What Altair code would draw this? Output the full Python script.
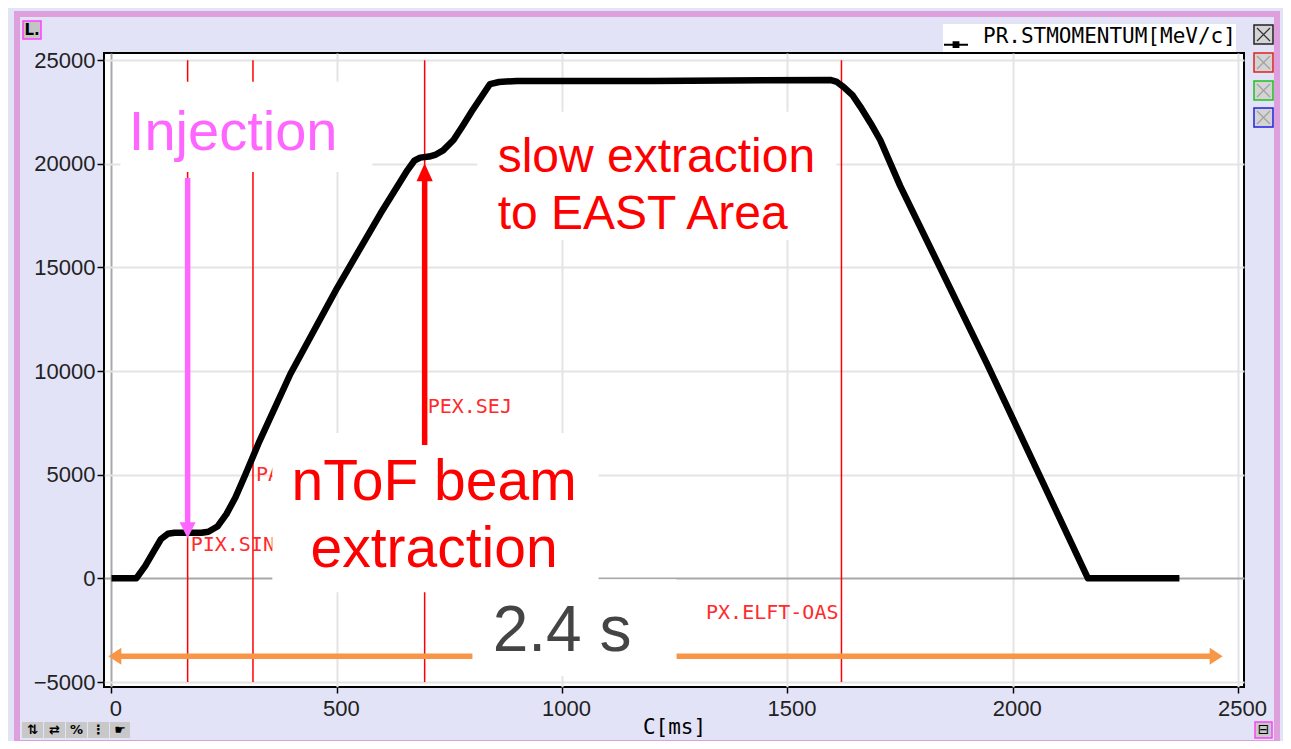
import altair as alt
import pandas as pd

# ---------------- data ----------------
t_ms = [0, 55, 75, 95, 110, 125, 140, 200, 215, 235, 255, 275, 297, 326, 397, 501,
        597, 657, 672, 685, 705, 720, 736, 759, 780, 800, 820, 840, 860, 900, 1200,
        1595, 1610, 1625, 1645, 1662, 1685, 1706, 1750, 1943, 2167, 2370]
p_mev = [0, 0, 600, 1350, 1900, 2150, 2200, 2200, 2250, 2500, 3100, 3900, 5000, 6500,
         9860, 14020, 17600, 19700, 20150, 20300, 20350, 20450, 20650, 21150, 21850,
         22550, 23200, 23850, 23950, 24000, 24000, 24050, 23950, 23700, 23300, 22750,
         21950, 21150, 18950, 10350, 0, 0]
series_name = "PR.STMOMENTUM[MeV/c]"

marker_names = ["PIX.SIN", "PA", "PEX.SEJ", "PX.ELFT-OAS"]
marker_ms = [169, 314, 695, 1620]
marker_label_mev = [1600, 5000, 8270, -1680]
marker_top = 25000
marker_bottom = -5000

x_ticks = [0, 500, 1000, 1500, 2000, 2500]
y_ticks = [-5000, 0, 5000, 10000, 15000, 20000, 25000]

# white note boxes pasted over the plot (ms, MeV/c)
box_x1 = [20, 812, 357, 801]
box_x2 = [579, 1609, 1081, 1254]
box_y1 = [19610, 16330, -670, -4720]
box_y2 = [23960, 22510, 7010, -40]

# annotation texts
inj_text, inj_x, inj_y = ["Injection"], [270], [20670]
slow_text, slow_x, slow_y = ["slow extraction", "to EAST Area"], [857, 857], [19607, 16857]
ntof_text, ntof_x, ntof_y = ["nToF beam", "extraction"], [716, 716], [3782, 550]
dur_text, dur_x, dur_y = ["2.4 s"], [1000], [-3509]

# arrows
inj_arrow_ms, inj_arrow_from, inj_arrow_to = 169, 19320, 1940
ext_arrow_ms, ext_arrow_from, ext_arrow_to = 695, 6430, 20030
dur_arrow_mev, dur_arrow_from, dur_arrow_to = -3757, -7, 2466

# ---------------- layout ----------------
W, H = 1140, 634
X_DOM = [-16.6, 2513.3]
Y_DOM = [-5241, 25348]
xpp = (X_DOM[1] - X_DOM[0]) / W
ypp = (Y_DOM[1] - Y_DOM[0]) / H

RED = "#ff0000"
MAG = "#ff66ff"
ORANGE = "#f79646"
PINK = "#dda0dd"
LAV = "#e3e3f7"

xs = alt.Scale(domain=X_DOM, nice=False, zero=False)
ys = alt.Scale(domain=Y_DOM, nice=False, zero=False)
grid_col = alt.condition("datum.value === 0", alt.value("#a8a8a8"), alt.value("#e4e4e4"))

xaxis = alt.Axis(values=x_ticks, format="d", title="C[ms]", grid=True, gridColor=grid_col,
                 gridWidth=2, domain=False, tickSize=6, tickColor="black", tickWidth=1.5,
                 labelFont="Liberation Sans", labelFontSize=22, labelColor="#222222",
                 labelPadding=5, labelOffset=4, labelFlush=False, labelOverlap=False,
                 titleFont="DejaVu Sans Mono", titleFontSize=21, titleFontWeight="normal",
                 titleColor="black", titleY=29, titleBaseline="top")
yaxis = alt.Axis(values=y_ticks, format="d", title=None, grid=True, gridColor=grid_col,
                 gridWidth=2, domain=False, tickSize=7, tickColor="black", tickWidth=1.5,
                 labelFont="Liberation Sans", labelFontSize=22, labelColor="#222222",
                 labelPadding=2, labelFlush=False, labelOverlap=False)


def X(f="x"):
    return alt.X(f"{f}:Q", scale=xs, axis=xaxis)


def Y(f="y"):
    return alt.Y(f"{f}:Q", scale=ys, axis=yaxis)


one = pd.DataFrame({"k": [0]})
layers = []


def prect(x1, x2, y1, y2, **kw):
    return alt.Chart(one).mark_rect(**kw).encode(
        x=alt.value(x1), x2=alt.value(x2), y=alt.value(y1), y2=alt.value(y2))


def ptext(x, y, s, **kw):
    return alt.Chart(one).mark_text(**kw).encode(
        x=alt.value(x), y=alt.value(y), text=alt.value(s))


# window chrome
layers.append(prect(-87, 1173, -39, 690, fillOpacity=0, stroke=PINK, strokeWidth=6))
layers.append(prect(-81, -63, -32, -14, fill="#c4c4c4", stroke="#ff40ff", strokeWidth=1.5))
layers.append(ptext(-72, -23, "L.", font="DejaVu Sans", fontSize=15, fontWeight="bold",
                    color="black", align="center", baseline="middle"))
xbox_y = [(-28, -9), (0, 19), (28, 47), (55, 74)]
xbox_col = ["#222222", "#e02020", "#20c020", "#2020e0"]
xbox_x = ["#333333", "#a0a0a0", "#a0a0a0", "#a0a0a0"]
for (a, b), c, xc in zip(xbox_y, xbox_col, xbox_x):
    layers.append(prect(1150, 1169, a, b, fill="#d4d4d4", stroke=c, strokeWidth=1.5))
    layers.append(alt.Chart(one).mark_point(shape="M-1,-1L1,1M1,-1L-1,1", size=169,
                                            filled=False, stroke=xc, strokeWidth=1.2,
                                            opacity=1).encode(
        x=alt.value(1159.5), y=alt.value((a + b) / 2)))
icon_x = [(-82, -61), (-60, -39), (-38, -17), (-16, 5), (6, 26)]
icon_g = ["⇅", "⇄", "%", "⋮", "☛"]
for (a, b), g in zip(icon_x, icon_g):
    layers.append(prect(a, b, 669, 685, fill="#c8c8c8"))
    layers.append(ptext((a + b) / 2, 677, g, font="DejaVu Sans", fontSize=13,
                        fontWeight="bold", color="black", align="center", baseline="middle"))
layers.append(prect(1151, 1168, 669, 685, fill="#c8c8c8", stroke="#ff40ff", strokeWidth=1.5))
layers.append(ptext(1159.5, 677, "⊟", font="DejaVu Sans", fontSize=14,
                    color="black", align="center", baseline="middle"))

# timing markers
mk = pd.DataFrame({"x": marker_ms, "y": [marker_top] * 4, "y2": [marker_bottom] * 4,
                   "ly": marker_label_mev, "name": marker_names})
layers.append(alt.Chart(mk).mark_rule(color=RED, strokeWidth=1.5).encode(
    x=X(), y=Y(), y2=alt.Y2("y2:Q")))
layers.append(alt.Chart(mk.iloc[:3]).mark_text(
    font="DejaVu Sans Mono", fontSize=20, color="#ff2a2a", align="left",
    baseline="middle", dx=3).encode(x=X(), y=Y("ly"), text="name:N"))
layers.append(alt.Chart(mk.iloc[3:]).mark_text(
    font="DejaVu Sans Mono", fontSize=20, color="#ff2a2a", align="right",
    baseline="middle", dx=-3).encode(x=X(), y=Y("ly"), text="name:N"))

# orange double arrow (cycle length)
dshaft = pd.DataFrame({"x": [dur_arrow_from + 7 * xpp], "x2": [dur_arrow_to - 7 * xpp],
                       "y": [dur_arrow_mev]})
layers.append(alt.Chart(dshaft).mark_rule(color=ORANGE, strokeWidth=5.5).encode(
    x=X(), x2=alt.X2("x2:Q"), y=Y()))
layers.append(alt.Chart(pd.DataFrame({"x": [dur_arrow_to], "y": [dur_arrow_mev]})).mark_point(
    shape="M-1,-0.65L0,0L-1,0.65Z", size=676, filled=True, color=ORANGE, opacity=1,
    strokeWidth=0).encode(x=X(), y=Y()))
layers.append(alt.Chart(pd.DataFrame({"x": [dur_arrow_from], "y": [dur_arrow_mev]})).mark_point(
    shape="M1,-0.65L0,0L1,0.65Z", size=676, filled=True, color=ORANGE, opacity=1,
    strokeWidth=0).encode(x=X(), y=Y()))

# white note boxes
bx = pd.DataFrame({"x": box_x1, "x2": box_x2, "y": box_y1, "y2": box_y2})
layers.append(alt.Chart(bx).mark_rect(fill="white").encode(
    x=X(), x2=alt.X2("x2:Q"), y=Y(), y2=alt.Y2("y2:Q")))

# the momentum curve
curve = pd.DataFrame({"x": t_ms, "y": p_mev, "series": [series_name] * len(t_ms)})
legend = alt.Legend(orient="none", legendX=839, legendY=-29, title=None, fillColor="white",
                    padding=0, labelFont="DejaVu Sans Mono", labelFontSize=21,
                    labelColor="black", labelLimit=600,
                    symbolType="M-1,0.64H1M-0.2,0.44H0.2V0.84H-0.2Z",
                    symbolSize=576, symbolStrokeWidth=2, symbolStrokeColor="black",
                    symbolFillColor="black", labelOffset=14)
layers.append(alt.Chart(curve).mark_line(strokeWidth=6.5, strokeJoin="round").encode(
    x=X(), y=Y(), color=alt.Color("series:N", scale=alt.Scale(range=["black"]), legend=legend)))

# vertical arrows
ishaft = pd.DataFrame({"x": [inj_arrow_ms], "y": [inj_arrow_from], "y2": [inj_arrow_to + 10 * ypp]})
layers.append(alt.Chart(ishaft).mark_rule(color=MAG, strokeWidth=5.5).encode(
    x=X(), y=Y(), y2=alt.Y2("y2:Q")))
layers.append(alt.Chart(pd.DataFrame({"x": [inj_arrow_ms], "y": [inj_arrow_to]})).mark_point(
    shape="M-0.5,-1L0.5,-1L0,0Z", size=1024, filled=True, color=MAG, opacity=1,
    strokeWidth=0).encode(x=X(), y=Y()))
eshaft = pd.DataFrame({"x": [ext_arrow_ms], "y": [ext_arrow_from], "y2": [ext_arrow_to - 10 * ypp]})
layers.append(alt.Chart(eshaft).mark_rule(color=RED, strokeWidth=5.5).encode(
    x=X(), y=Y(), y2=alt.Y2("y2:Q")))
layers.append(alt.Chart(pd.DataFrame({"x": [ext_arrow_ms], "y": [ext_arrow_to]})).mark_point(
    shape="M-0.45,1L0.45,1L0,0Z", size=1296, filled=True, color=RED, opacity=1,
    strokeWidth=0).encode(x=X(), y=Y()))


# annotation texts
def ann(texts, xv, yv, size, color, align):
    d = pd.DataFrame({"x": xv, "y": yv, "t": texts})
    return alt.Chart(d).mark_text(font="Liberation Sans", fontSize=size, color=color,
                                  align=align, baseline="alphabetic").encode(
        x=X(), y=Y(), text="t:N")


layers.append(ann(inj_text, inj_x, inj_y, 56, MAG, "center"))
layers.append(ann(slow_text, slow_x, slow_y, 48, RED, "left"))
layers.append(ann(ntof_text, ntof_x, ntof_y, 57, RED, "center"))
layers.append(ann(dur_text, dur_x, dur_y, 64, "#444444", "center"))

chart = alt.layer(*layers).properties(
    width=W, height=H, autosize="none",
    padding={"left": 96, "top": 45, "right": 39, "bottom": 54},
    background=LAV,
).configure_view(fill="white", stroke="black", strokeWidth=2)

chart.save("out.html", embed_options={"renderer": "svg", "actions": False})
